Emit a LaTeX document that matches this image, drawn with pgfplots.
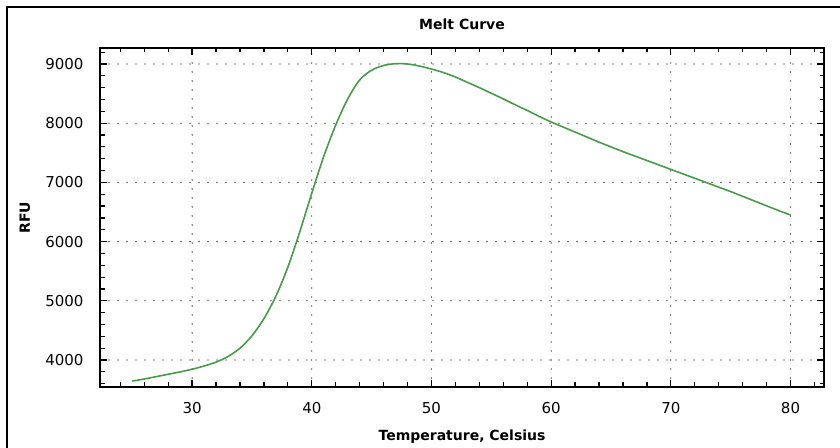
\documentclass[border=0pt]{standalone}
\usepackage{fontspec}
\setmainfont{DejaVu Sans}
\usepackage{pgfplots}
\usepackage{pgfplotstable}
\pgfplotsset{compat=1.18}

% melt curve
\pgfplotstableread{
T  RFU
25 3645
26 3680
27 3720
28 3760
29 3800
30 3845
31 3900
32 3965
33 4060
34 4200
35 4410
36 4700
37 5080
38 5570
39 6170
40 6820
41 7440
42 7970
43 8410
44 8730
45 8895
46 8975
47 9005
48 9000
49 8965
50 8915
51 8855
52 8780
53 8690
54 8600
55 8505
56 8410
57 8310
58 8215
59 8115
60 8020
61 7935
62 7850
63 7765
64 7680
65 7600
66 7520
67 7445
68 7370
69 7295
70 7220
71 7145
72 7070
73 6995
74 6920
75 6845
76 6765
77 6685
78 6605
79 6525
80 6450
}\meltdata

\definecolor{meltgreen}{RGB}{72,155,72}
\newcommand\tl{\fontsize{15}{17}\selectfont}
\newcommand\lbl{\bfseries\fontsize{14}{16}\selectfont}

\begin{document}
\begin{tikzpicture}[font=\tl]
\begin{axis}[
    width=724pt, height=339pt, scale only axis,
    xmin=22.3, xmax=82.8, ymin=3545, ymax=9270,
    xtick={30,40,50,60,70,80}, ytick={4000,5000,6000,7000,8000,9000},
    xticklabels={\tl 30,\tl 40,\tl 50,\tl 60,\tl 70,\tl 80},
    yticklabels={\tl 4000,\tl 5000,\tl 6000,\tl 7000,\tl 8000,\tl 9000},
    minor xtick={24,26,...,82},
    minor ytick={3600,3800,...,9200},
    tick align=inside,
    major tick length=7pt, minor tick length=4.5pt,
    every tick/.style={black, line width=1.3pt},
    every minor tick/.style={black, line width=1.2pt},
    axis line style={black, line width=1.6pt},
    grid=major,
    major grid style={black, line width=1.3pt, line cap=round, dash pattern=on 0pt off 9pt},
    yticklabel style={anchor=east, xshift=-13pt},
    xticklabel style={anchor=north, yshift=-12pt},
    title={Melt Curve},
    title style={font=\lbl, at={(axis description cs:0.5,1.0383)}, anchor=base},
    xlabel={Temperature, Celsius},
    xlabel style={font=\lbl, at={(axis description cs:0.5,-0.1593)}, anchor=base},
    ylabel={RFU},
    ylabel style={font=\lbl, at={(axis description cs:-0.0967,0.5)}, anchor=base},
]
\addplot[meltgreen, line width=1.6pt, smooth] table[x=T, y=RFU] {\meltdata};
% outward stubs of the major ticks on the left and bottom
\pgfplotsinvokeforeach{30,40,50,60,70,80}{
  \draw[black, line width=1.3pt] (axis cs:#1,3545) -- ++(0pt,-5pt);
}
\pgfplotsinvokeforeach{4000,5000,6000,7000,8000,9000}{
  \draw[black, line width=1.3pt] (axis cs:22.3,#1) -- ++(-5pt,0pt);
}
\coordinate (f1) at (axis description cs:-0.1285,-0.3);
\coordinate (f2) at (axis description cs:-0.1285,1.1209);
\coordinate (f3) at (axis description cs:1.1,1.1209);
\coordinate (bb1) at (axis description cs:-0.13812,-0.17994);
\coordinate (bb2) at (axis description cs:1.0221,1.14159);
\end{axis}
\draw[black, line width=1.4pt] (f1) -- (f2) -- (f3);
\pgfresetboundingbox
\path[use as bounding box] (bb1) rectangle (bb2);
\end{tikzpicture}
\end{document}
